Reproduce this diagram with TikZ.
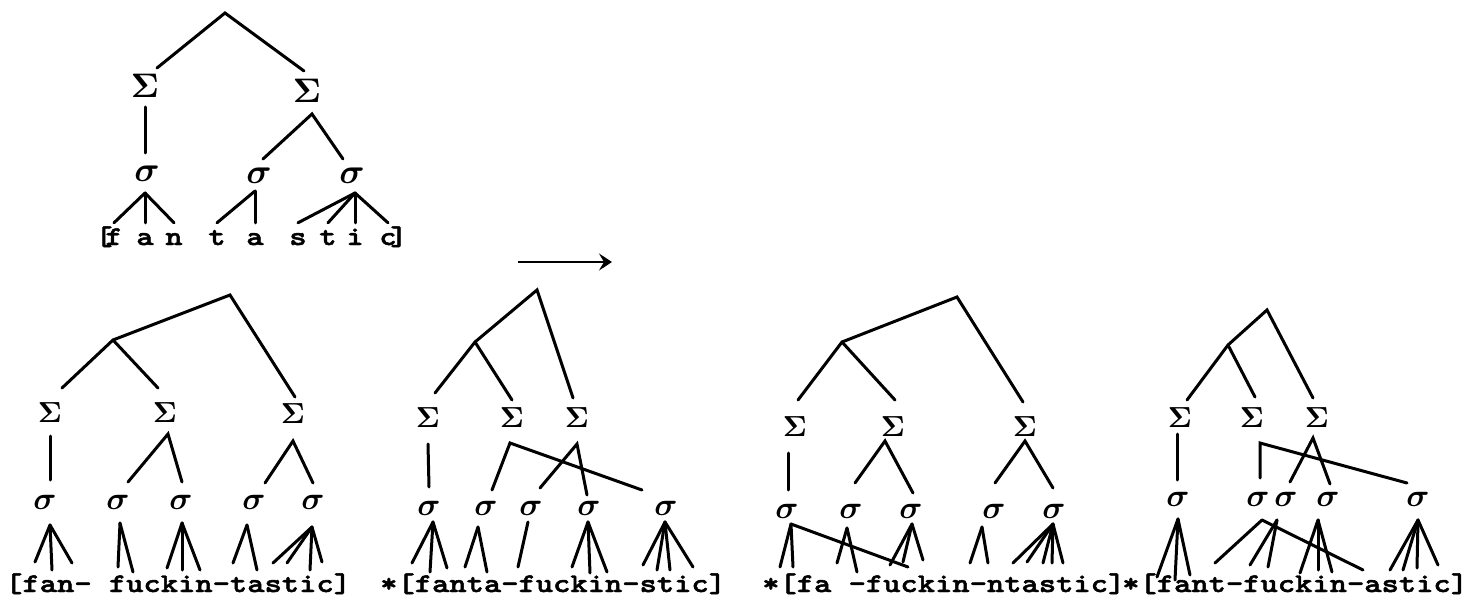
\documentclass[tikz,border=0pt]{standalone}
\usepackage{amsmath}
\usepackage{graphicx}
\usepackage[no-math]{fontspec}
\newfontfamily\tw[FakeStretch=1.22,FakeBold=1.8]{lmmonolt10-bold.otf}
\usetikzlibrary{arrows.meta}
\newcommand\fSigma[1]{\scalebox{#1}{$\boldsymbol{\Sigma}$}}
\newcommand\fsigma[1]{\scalebox{#1}{$\boldsymbol{\sigma}$}}
\begin{document}
\begin{tikzpicture}[x=1pt,y=-1pt,
  br/.style={line width=3pt,line cap=round},
  gk/.style={inner sep=0,font=\fontsize{10}{12}\selectfont},
  ltr/.style={inner sep=0,anchor=base,text height=16pt,text depth=4pt,font=\tw\fontsize{27}{27}\selectfont},
  word/.style={inner sep=0,anchor=base west,font=\tw\fontsize{27}{27}\selectfont}]
\fill[white] (0,0) rectangle (1475,607);
\useasboundingbox (0,0) rectangle (1475,607);

% sizes of the Greek labels
\def\bS{3.4}\def\bs{3.5}\def\sS{2.9}\def\ss{3.2}

% ---------------- upper tree: [f a n t a s t i c] ----------------
\coordinate (T) at (225,13);
\coordinate (TS1n) at (157,68);
\coordinate (TS2n) at (304,71);
\node[gk] (TS1) at (145,86) {\fSigma{\bS}};
\node[gk] (TS2) at (307,91) {\fSigma{\bS}};
\coordinate (TS1s) at (145,107);
\coordinate (TS2s) at (312,114);
\coordinate (Tx1n) at (145,153);
\coordinate (Tx2n) at (263,159);
\coordinate (Tx3n) at (343,159);
\node[gk] (Tx1) at (147,174) {\fsigma{\bs}};
\node[gk] (Tx2) at (259,176) {\fsigma{\bs}};
\node[gk] (Tx3) at (352,176) {\fsigma{\bs}};
\coordinate (Tx1s) at (145,193);
\coordinate (Tx2s) at (255,191);
\coordinate (Tx3s) at (355,193);
\node[ltr] (Tlb) at (104,245) {[};
\node[ltr] (Tf) at (114,245) {f};
\node[ltr] (Ta) at (145,245) {a};
\node[ltr] (Tn) at (174,245) {n};
\node[ltr] (Tt) at (217,245) {t};
\node[ltr] (Ta2) at (255,245) {a};
\node[ltr] (Ts) at (298,245) {s};
\node[ltr] (Tt2) at (328,245) {t};
\node[ltr] (Ti) at (355,245) {i};
\node[ltr] (Tc) at (388,245) {c};
\node[ltr] (Trb) at (399,245) {]};
\draw[br] (TS1n) -- (T) -- (TS2n);
\draw[br] (TS1s) -- (Tx1n);
\draw[br] (Tx2n) -- (TS2s) -- (Tx3n);
\draw[br] (Tx1s) -- ([yshift=6pt]Tf.north);
\draw[br] (Tx1s) -- ([yshift=6pt]Ta.north);
\draw[br] (Tx1s) -- ([yshift=6pt]Tn.north);
\draw[br] (Tx2s) -- ([yshift=6pt]Tt.north);
\draw[br] (Tx2s) -- ([yshift=6pt]Ta2.north);
\draw[br] (Tx3s) -- ([yshift=6pt]Ts.north);
\draw[br] (Tx3s) -- ([yshift=6pt]Tt2.north);
\draw[br] (Tx3s) -- ([yshift=6pt]Ti.north);
\draw[br] (Tx3s) -- ([yshift=6pt]Tc.north);

% ---------------- arrow ----------------
\coordinate (A1) at (518,262);
\coordinate (A2) at (612,262);
\draw[line width=2pt,-{Stealth[length=13pt,width=17pt,inset=5pt]}] (A1) -- (A2);

% ---------------- tree 1: [fan- fuckin-tastic] ----------------
\coordinate (R1) at (230,295);
\coordinate (M1) at (113,340);
\coordinate (a1) at (62,388);
\coordinate (a2) at (158,388);
\coordinate (a3) at (295,397);
\node[gk] (P1) at (50,413) {\fSigma{\sS}};
\node[gk] (P2) at (165,413) {\fSigma{\sS}};
\node[gk] (P3) at (293,414) {\fSigma{\sS}};
\coordinate (P1s) at (50,436);
\coordinate (P2s) at (168,434);
\coordinate (P3s) at (293,441);
\coordinate (b1) at (50,480);
\coordinate (b2) at (128,482);
\coordinate (b3) at (182,482);
\coordinate (b4) at (265,483);
\coordinate (b5) at (313,483);
\node[gk] (p1) at (45,502) {\fsigma{\ss}};
\node[gk] (p2) at (118,502) {\fsigma{\ss}};
\node[gk] (p3) at (181,502) {\fsigma{\ss}};
\node[gk] (p4) at (254,502) {\fsigma{\ss}};
\node[gk] (p5) at (313,502) {\fsigma{\ss}};
\coordinate (p1s) at (50,525);
\coordinate (p2s) at (120,523);
\coordinate (p3s) at (182,523);
\coordinate (p4s) at (247,525);
\coordinate (p5s) at (312,527);
\draw[br] (a1) -- (M1) -- (R1) -- (a3);
\draw[br] (M1) -- (a2);
\draw[br] (P1s) -- (b1);
\draw[br] (b2) -- (P2s) -- (b3);
\draw[br] (b4) -- (P3s) -- (b5);
\foreach \e in {(35,562),(52,570),(72,563)} \draw[br] (p1s) -- \e;
\foreach \e in {(118,567),(133,572)} \draw[br] (p2s) -- \e;
\foreach \e in {(167,568),(182,570),(200,570)} \draw[br] (p3s) -- \e;
\foreach \e in {(233,563),(257,570)} \draw[br] (p4s) -- \e;
\foreach \e in {(273,563),(287,563),(310,570),(322,562)} \draw[br] (p5s) -- \e;
\node[word] (W1) at (5,592) {[fan- fuckin-tastic]};

% ---------------- tree 2: *[fanta-fuckin-stic] ----------------
\coordinate (R2) at (537,290);
\coordinate (M2) at (475,342);
\coordinate (c1) at (435,393);
\coordinate (c2) at (512,400);
\coordinate (c3) at (573,398);
\node[gk] (Q1) at (428,418) {\fSigma{\sS}};
\node[gk] (Q2) at (512,418) {\fSigma{\sS}};
\node[gk] (Q3) at (577,418) {\fSigma{\sS}};
\coordinate (Q1s) at (428,444);
\coordinate (Q2s) at (510,443);
\coordinate (Q3s) at (577,444);
\node[gk] (q1) at (429,508) {\fsigma{\ss}};
\node[gk] (q2) at (486,508) {\fsigma{\ss}};
\node[gk] (q3) at (531,508) {\fsigma{\ss}};
\node[gk] (q4) at (589,508) {\fsigma{\ss}};
\node[gk] (q5) at (666,508) {\fsigma{\ss}};
\coordinate (q1s) at (433,522);
\coordinate (q2s) at (478,527);
\coordinate (q3s) at (528,522);
\coordinate (q4s) at (588,522);
\coordinate (q5s) at (665,522);
\draw[br] (c1) -- (M2) -- (R2) -- (c3);
\draw[br] (M2) -- (c2);
\draw[br] (Q1s) -- (429,487);
\draw[br] (492,490) -- (Q2s) -- (642,490);
\draw[br] (540,488) -- (Q3s) -- (587,495);
\foreach \e in {(412,563),(430,572),(447,568)} \draw[br] (q1s) -- \e;
\foreach \e in {(465,567),(487,572)} \draw[br] (q2s) -- \e;
\foreach \e in {(518,567)} \draw[br] (q3s) -- \e;
\foreach \e in {(572,567),(590,573),(607,572)} \draw[br] (q4s) -- \e;
\foreach \e in {(643,565),(657,570),(670,570),(693,567)} \draw[br] (q5s) -- \e;
\node[word] (W2) at (380,592) {*[fanta-fuckin-stic]};

% ---------------- tree 3: *[fa -fuckin-ntastic] ----------------
\coordinate (R3) at (957,297);
\coordinate (M3) at (842,342);
\coordinate (d1) at (798,400);
\coordinate (d2) at (895,400);
\coordinate (d3) at (1023,402);
\node[gk] (U1) at (795,427) {\fSigma{\sS}};
\node[gk] (U2) at (893,427) {\fSigma{\sS}};
\node[gk] (U3) at (1025,427) {\fSigma{\sS}};
\coordinate (U1s) at (788,453);
\coordinate (U2s) at (885,441);
\coordinate (U3s) at (1025,441);
\node[gk] (u1) at (787,511) {\fsigma{\ss}};
\node[gk] (u2) at (851,511) {\fsigma{\ss}};
\node[gk] (u3) at (911,511) {\fsigma{\ss}};
\node[gk] (u4) at (994,511) {\fsigma{\ss}};
\node[gk] (u5) at (1054,511) {\fsigma{\ss}};
\coordinate (u1s) at (791,524);
\coordinate (u2s) at (847,528);
\coordinate (u3s) at (912,524);
\coordinate (u4s) at (982,527);
\coordinate (u5s) at (1053,524);
\draw[br] (d1) -- (M3) -- (R3) -- (d3);
\draw[br] (M3) -- (d2);
\draw[br] (U1s) -- (788,490);
\draw[br] (855,483) -- (U2s) -- (913,493);
\draw[br] (995,483) -- (U3s) -- (1053,488);
\foreach \e in {(780,567),(793,567),(908,567)} \draw[br] (u1s) -- \e;
\foreach \e in {(837,563),(857,572)} \draw[br] (u2s) -- \e;
\foreach \e in {(890,565),(903,562),(923,560)} \draw[br] (u3s) -- \e;
\foreach \e in {(970,563),(988,563)} \draw[br] (u4s) -- \e;
\foreach \e in {(1013,563),(1027,562),(1043,563),(1052,563),(1063,563)} \draw[br] (u5s) -- \e;
\node[word] (W3) at (762,592) {*[fa -fuckin-ntastic]};

% ---------------- tree 4: *[fant-fuckin-astic] ----------------
\coordinate (R4) at (1267,310);
\coordinate (M4) at (1228,345);
\coordinate (e1) at (1187,400);
\coordinate (e2) at (1255,397);
\coordinate (e3) at (1313,398);
\node[gk] (V1) at (1180,418) {\fSigma{\sS}};
\node[gk] (V2) at (1252,418) {\fSigma{\sS}};
\node[gk] (V3) at (1317,418) {\fSigma{\sS}};
\coordinate (V1s) at (1177,434);
\coordinate (V2s) at (1260,443);
\coordinate (V3s) at (1313,438);
\node[gk] (v1) at (1178,499) {\fsigma{\ss}};
\node[gk] (v2) at (1258,499) {\fsigma{\ss}};
\node[gk] (v3) at (1286,499) {\fsigma{\ss}};
\node[gk] (v4) at (1328,499) {\fsigma{\ss}};
\node[gk] (v5) at (1418,499) {\fsigma{\ss}};
\coordinate (v1s) at (1178,519);
\coordinate (v2s) at (1262,520);
\coordinate (v3s) at (1277,520);
\coordinate (v4s) at (1318,520);
\coordinate (v5s) at (1418,520);
\draw[br] (e1) -- (M4) -- (R4) -- (e3);
\draw[br] (M4) -- (e2);
\draw[br] (V1s) -- (1177,480);
\draw[br] (1260,478) -- (V2s) -- (1407,483);
\draw[br] (1290,482) -- (V3s) -- (1330,484);
\foreach \e in {(1157,577),(1175,580),(1190,575)} \draw[br] (v1s) -- \e;
\foreach \e in {(1215,563),(1363,570)} \draw[br] (v2s) -- \e;
\foreach \e in {(1250,565),(1268,567)} \draw[br] (v3s) -- \e;
\foreach \e in {(1300,573),(1318,570),(1332,572)} \draw[br] (v4s) -- \e;
\foreach \e in {(1390,570),(1403,570),(1417,568),(1438,565)} \draw[br] (v5s) -- \e;
\node[word] (W4) at (1122,592) {*[fant-fuckin-astic]};
\end{tikzpicture}
\end{document}
